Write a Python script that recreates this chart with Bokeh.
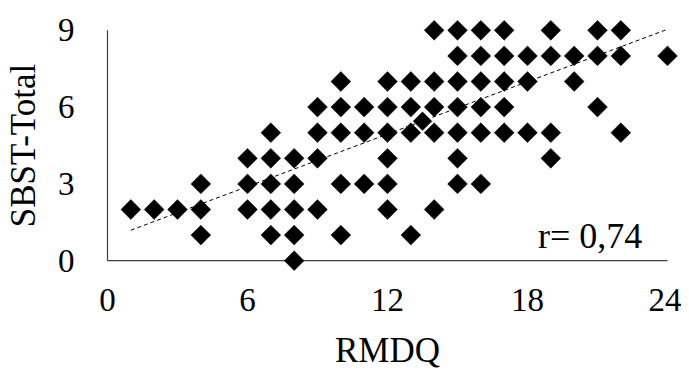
import numpy as np
from bokeh.plotting import figure
from bokeh.models import Range1d, FixedTicker, Label
from bokeh.embed import file_html
from bokeh.resources import INLINE

# RMDQ (x) and SBST-Total (y) pairs
rmdq = [8,
        4, 7, 8, 10, 13,
        1, 2, 3, 4, 6, 7, 8, 9, 12, 14,
        4, 6, 7, 8, 10, 11, 12, 15, 16,
        6, 7, 8, 9, 12, 15, 19,
        7, 9, 10, 11, 12, 13, 14, 15, 16, 17, 18, 19, 22,
        9, 10, 11, 12, 13, 14, 15, 16, 17, 21,
        10, 12, 13, 14, 15, 16, 17, 18, 20,
        15, 16, 17, 18, 19, 20, 21, 22, 24,
        14, 15, 16, 17, 19, 21, 22]
sbst = [0,
        1, 1, 1, 1, 1,
        2, 2, 2, 2, 2, 2, 2, 2, 2, 2,
        3, 3, 3, 3, 3, 3, 3, 3, 3,
        4, 4, 4, 4, 4, 4, 4,
        5, 5, 5, 5, 5, 5, 5, 5, 5, 5, 5, 5, 5,
        6, 6, 6, 6, 6, 6, 6, 6, 6, 6,
        7, 7, 7, 7, 7, 7, 7, 7, 7,
        8, 8, 8, 8, 8, 8, 8, 8, 8,
        9, 9, 9, 9, 9, 9, 9]
# point drawn on the trend line (mean)
mean_x = [13.5]
mean_y = [5.45]

# dashed linear trend line
trend_x = [1, 24]
trend_y = [1.19, 9.04]

x_ticks = [0, 6, 12, 18, 24]
y_ticks = [0, 3, 6, 9]
x_label = "RMDQ"
y_label = "SBST-Total"
r_text = "r= 0,74"

FONT = "Liberation Serif"

p = figure(frame_width=588, frame_height=256,
           x_range=Range1d(-0.6, 24.6), y_range=Range1d(-0.5, 9.5),
           output_backend="svg", toolbar_location=None,
           min_border_left=92, min_border_right=0,
           min_border_top=17, min_border_bottom=95)
p.outline_line_color = None
p.grid.visible = False
p.background_fill_color = "white"
p.border_fill_color = "white"

for ax in (p.xaxis[0], p.yaxis[0]):
    ax.axis_line_color = None
    ax.major_tick_line_color = None
    ax.minor_tick_line_color = None
    ax.major_tick_in = 0
    ax.major_tick_out = 0
    ax.major_label_text_font = FONT
    ax.major_label_text_font_size = "33px"
    ax.major_label_text_color = "black"
    ax.axis_label_text_font = FONT
    ax.axis_label_text_font_size = "35px"
    ax.axis_label_text_font_style = "normal"
    ax.axis_label_text_color = "black"

p.xaxis.ticker = FixedTicker(ticks=x_ticks)
p.yaxis.ticker = FixedTicker(ticks=y_ticks)
p.xaxis.axis_label = x_label
p.yaxis.axis_label = y_label
p.xaxis.major_label_standoff = 15
p.yaxis.major_label_standoff = 19
p.xaxis.axis_label_standoff = 17
p.yaxis.axis_label_standoff = 12

# axis lines spanning the tick range
p.segment(x0=[x_ticks[0], x_ticks[0]], y0=[y_ticks[0], y_ticks[0]],
          x1=[x_ticks[0], x_ticks[-1]], y1=[y_ticks[-1], y_ticks[0]],
          line_color="#404040", line_width=1.2)

p.line(trend_x, trend_y, line_color="black", line_width=1, line_dash="4 3")

p.scatter(rmdq, sbst, marker="square", size=14, angle=np.pi / 4,
          fill_color="black", line_color="black", line_width=0.5)
p.scatter(mean_x, mean_y, marker="square", size=14, angle=np.pi / 4,
          fill_color="black", line_color="white", line_width=0.6)

p.add_layout(Label(x=18.45, y=0.95, text=r_text, text_font=FONT,
                   text_font_size="36px", text_color="black",
                   text_baseline="alphabetic", text_align="left"))

open("out.html", "w").write(file_html(p, INLINE))
